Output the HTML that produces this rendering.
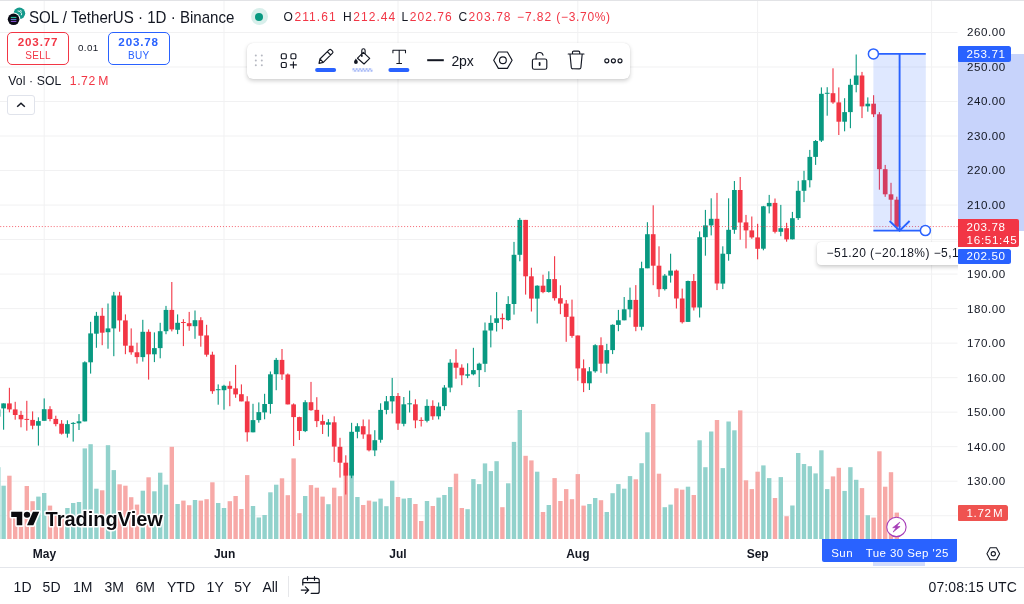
<!DOCTYPE html>
<html><head><meta charset="utf-8"><title>SOLUSDT chart</title>
<style>
html,body{margin:0;padding:0;background:#fff;}
body{width:1024px;height:604px;position:relative;overflow:hidden;will-change:transform;font-family:"Liberation Sans",sans-serif;color:#131722;}
.abs{position:absolute;white-space:nowrap;line-height:1;}
#chart{position:absolute;left:0;top:0;}
.pl{position:absolute;left:966.9px;font-size:11.6px;letter-spacing:0.56px;line-height:1;white-space:nowrap;color:#131722;}
.tl{position:absolute;top:548.2px;font-size:12px;font-weight:bold;line-height:1;white-space:nowrap;transform:translateX(-50%);color:#131722;}
.rg{position:absolute;top:579.6px;font-size:14px;line-height:1;white-space:nowrap;color:#131722;}
.red{color:#F23645;}
.lbl{position:absolute;left:958px;color:#fff;font-size:11.6px;letter-spacing:0.56px;line-height:1;white-space:nowrap;box-sizing:border-box;padding-left:8.6px;}
</style></head><body>
<div class="abs" style="left:0;top:0;width:1024px;height:1px;background:#E2E3E6"></div>
<svg id="chart" width="1024" height="604" viewBox="0 0 1024 604">
<line x1="0" y1="515.73" x2="957.5" y2="515.73" stroke="#F1F1F2" stroke-width="1"/>
<line x1="0" y1="481.21" x2="957.5" y2="481.21" stroke="#F1F1F2" stroke-width="1"/>
<line x1="0" y1="446.69" x2="957.5" y2="446.69" stroke="#F1F1F2" stroke-width="1"/>
<line x1="0" y1="412.17" x2="957.5" y2="412.17" stroke="#F1F1F2" stroke-width="1"/>
<line x1="0" y1="377.65" x2="957.5" y2="377.65" stroke="#F1F1F2" stroke-width="1"/>
<line x1="0" y1="343.13" x2="957.5" y2="343.13" stroke="#F1F1F2" stroke-width="1"/>
<line x1="0" y1="308.61" x2="957.5" y2="308.61" stroke="#F1F1F2" stroke-width="1"/>
<line x1="0" y1="274.09" x2="957.5" y2="274.09" stroke="#F1F1F2" stroke-width="1"/>
<line x1="0" y1="239.57" x2="957.5" y2="239.57" stroke="#F1F1F2" stroke-width="1"/>
<line x1="0" y1="205.05" x2="957.5" y2="205.05" stroke="#F1F1F2" stroke-width="1"/>
<line x1="0" y1="170.53" x2="957.5" y2="170.53" stroke="#F1F1F2" stroke-width="1"/>
<line x1="0" y1="136.01" x2="957.5" y2="136.01" stroke="#F1F1F2" stroke-width="1"/>
<line x1="0" y1="101.49" x2="957.5" y2="101.49" stroke="#F1F1F2" stroke-width="1"/>
<line x1="0" y1="66.97" x2="957.5" y2="66.97" stroke="#F1F1F2" stroke-width="1"/>
<line x1="0" y1="32.45" x2="957.5" y2="32.45" stroke="#F1F1F2" stroke-width="1"/>
<line x1="44.2" y1="1" x2="44.2" y2="539" stroke="#F1F1F2" stroke-width="1"/>
<line x1="224.0" y1="1" x2="224.0" y2="539" stroke="#F1F1F2" stroke-width="1"/>
<line x1="398.0" y1="1" x2="398.0" y2="539" stroke="#F1F1F2" stroke-width="1"/>
<line x1="577.8" y1="1" x2="577.8" y2="539" stroke="#F1F1F2" stroke-width="1"/>
<line x1="757.6" y1="1" x2="757.6" y2="539" stroke="#F1F1F2" stroke-width="1"/>
<line x1="931.6" y1="1" x2="931.6" y2="539" stroke="#F1F1F2" stroke-width="1"/>
<rect x="0" y="467.2" width="0.5" height="71.8" fill="#92D2CC"/>
<g>
<rect x="-4.40" y="467.2" width="4.4" height="71.8" fill="#92D2CC"/>
<rect x="1.40" y="485.7" width="4.4" height="53.3" fill="#92D2CC"/>
<rect x="7.20" y="475.7" width="4.4" height="63.3" fill="#F7A9A7"/>
<rect x="13.00" y="510.0" width="4.4" height="29.0" fill="#F7A9A7"/>
<rect x="18.80" y="512.0" width="4.4" height="27.0" fill="#F7A9A7"/>
<rect x="24.60" y="486.0" width="4.4" height="53.0" fill="#F7A9A7"/>
<rect x="30.40" y="501.2" width="4.4" height="37.8" fill="#F7A9A7"/>
<rect x="36.20" y="496.6" width="4.4" height="42.4" fill="#92D2CC"/>
<rect x="42.00" y="493.0" width="4.4" height="46.0" fill="#92D2CC"/>
<rect x="47.80" y="505.6" width="4.4" height="33.4" fill="#F7A9A7"/>
<rect x="53.60" y="514.0" width="4.4" height="25.0" fill="#F7A9A7"/>
<rect x="59.40" y="515.0" width="4.4" height="24.0" fill="#F7A9A7"/>
<rect x="65.20" y="508.0" width="4.4" height="31.0" fill="#92D2CC"/>
<rect x="71.00" y="503.0" width="4.4" height="36.0" fill="#92D2CC"/>
<rect x="76.80" y="502.0" width="4.4" height="37.0" fill="#92D2CC"/>
<rect x="82.60" y="448.4" width="4.4" height="90.6" fill="#92D2CC"/>
<rect x="88.40" y="444.2" width="4.4" height="94.8" fill="#92D2CC"/>
<rect x="94.20" y="488.7" width="4.4" height="50.3" fill="#92D2CC"/>
<rect x="100.00" y="490.3" width="4.4" height="48.7" fill="#F7A9A7"/>
<rect x="105.80" y="445.2" width="4.4" height="93.8" fill="#92D2CC"/>
<rect x="111.60" y="470.1" width="4.4" height="68.9" fill="#92D2CC"/>
<rect x="117.40" y="484.3" width="4.4" height="54.7" fill="#F7A9A7"/>
<rect x="123.20" y="485.7" width="4.4" height="53.3" fill="#F7A9A7"/>
<rect x="129.00" y="497.2" width="4.4" height="41.8" fill="#F7A9A7"/>
<rect x="134.80" y="504.6" width="4.4" height="34.4" fill="#F7A9A7"/>
<rect x="140.60" y="490.7" width="4.4" height="48.3" fill="#92D2CC"/>
<rect x="146.40" y="477.3" width="4.4" height="61.7" fill="#F7A9A7"/>
<rect x="152.20" y="491.3" width="4.4" height="47.7" fill="#92D2CC"/>
<rect x="158.00" y="472.7" width="4.4" height="66.3" fill="#92D2CC"/>
<rect x="163.80" y="484.7" width="4.4" height="54.3" fill="#92D2CC"/>
<rect x="169.60" y="446.8" width="4.4" height="92.2" fill="#F7A9A7"/>
<rect x="175.40" y="504.0" width="4.4" height="35.0" fill="#92D2CC"/>
<rect x="181.20" y="500.6" width="4.4" height="38.4" fill="#F7A9A7"/>
<rect x="187.00" y="505.2" width="4.4" height="33.8" fill="#F7A9A7"/>
<rect x="192.80" y="500.0" width="4.4" height="39.0" fill="#92D2CC"/>
<rect x="198.60" y="500.6" width="4.4" height="38.4" fill="#F7A9A7"/>
<rect x="204.40" y="499.2" width="4.4" height="39.8" fill="#F7A9A7"/>
<rect x="210.20" y="482.3" width="4.4" height="56.7" fill="#F7A9A7"/>
<rect x="216.00" y="503.0" width="4.4" height="36.0" fill="#92D2CC"/>
<rect x="221.80" y="508.0" width="4.4" height="31.0" fill="#92D2CC"/>
<rect x="227.60" y="501.2" width="4.4" height="37.8" fill="#F7A9A7"/>
<rect x="233.40" y="496.0" width="4.4" height="43.0" fill="#F7A9A7"/>
<rect x="239.20" y="509.0" width="4.4" height="30.0" fill="#F7A9A7"/>
<rect x="245.00" y="475.1" width="4.4" height="63.9" fill="#F7A9A7"/>
<rect x="250.80" y="506.0" width="4.4" height="33.0" fill="#92D2CC"/>
<rect x="256.60" y="517.5" width="4.4" height="21.5" fill="#92D2CC"/>
<rect x="262.40" y="515.0" width="4.4" height="24.0" fill="#92D2CC"/>
<rect x="268.20" y="492.3" width="4.4" height="46.7" fill="#92D2CC"/>
<rect x="274.00" y="484.7" width="4.4" height="54.3" fill="#92D2CC"/>
<rect x="279.80" y="478.3" width="4.4" height="60.7" fill="#F7A9A7"/>
<rect x="285.60" y="495.2" width="4.4" height="43.8" fill="#F7A9A7"/>
<rect x="291.40" y="458.4" width="4.4" height="80.6" fill="#F7A9A7"/>
<rect x="297.20" y="513.2" width="4.4" height="25.8" fill="#F7A9A7"/>
<rect x="303.00" y="496.0" width="4.4" height="43.0" fill="#92D2CC"/>
<rect x="308.80" y="485.1" width="4.4" height="53.9" fill="#F7A9A7"/>
<rect x="314.60" y="487.7" width="4.4" height="51.3" fill="#F7A9A7"/>
<rect x="320.40" y="496.6" width="4.4" height="42.4" fill="#F7A9A7"/>
<rect x="326.20" y="504.2" width="4.4" height="34.8" fill="#92D2CC"/>
<rect x="332.00" y="487.7" width="4.4" height="51.3" fill="#F7A9A7"/>
<rect x="337.80" y="496.2" width="4.4" height="42.8" fill="#F7A9A7"/>
<rect x="343.60" y="470.0" width="4.4" height="69.0" fill="#F7A9A7"/>
<rect x="349.40" y="468.0" width="4.4" height="71.0" fill="#92D2CC"/>
<rect x="355.20" y="497.0" width="4.4" height="42.0" fill="#92D2CC"/>
<rect x="361.00" y="505.0" width="4.4" height="34.0" fill="#F7A9A7"/>
<rect x="366.80" y="500.6" width="4.4" height="38.4" fill="#F7A9A7"/>
<rect x="372.60" y="501.6" width="4.4" height="37.4" fill="#92D2CC"/>
<rect x="378.40" y="498.6" width="4.4" height="40.4" fill="#92D2CC"/>
<rect x="384.20" y="506.2" width="4.4" height="32.8" fill="#92D2CC"/>
<rect x="390.00" y="480.7" width="4.4" height="58.3" fill="#92D2CC"/>
<rect x="395.80" y="497.0" width="4.4" height="42.0" fill="#F7A9A7"/>
<rect x="401.60" y="498.6" width="4.4" height="40.4" fill="#92D2CC"/>
<rect x="407.40" y="498.0" width="4.4" height="41.0" fill="#92D2CC"/>
<rect x="413.20" y="504.0" width="4.4" height="35.0" fill="#F7A9A7"/>
<rect x="419.00" y="521.0" width="4.4" height="18.0" fill="#F7A9A7"/>
<rect x="424.80" y="501.0" width="4.4" height="38.0" fill="#92D2CC"/>
<rect x="430.60" y="506.0" width="4.4" height="33.0" fill="#F7A9A7"/>
<rect x="436.40" y="497.6" width="4.4" height="41.4" fill="#92D2CC"/>
<rect x="442.20" y="495.0" width="4.4" height="44.0" fill="#92D2CC"/>
<rect x="448.00" y="487.0" width="4.4" height="52.0" fill="#92D2CC"/>
<rect x="453.80" y="473.7" width="4.4" height="65.3" fill="#F7A9A7"/>
<rect x="459.60" y="508.0" width="4.4" height="31.0" fill="#F7A9A7"/>
<rect x="465.40" y="509.2" width="4.4" height="29.8" fill="#92D2CC"/>
<rect x="471.20" y="479.1" width="4.4" height="59.9" fill="#92D2CC"/>
<rect x="477.00" y="484.1" width="4.4" height="54.9" fill="#92D2CC"/>
<rect x="482.80" y="463.4" width="4.4" height="75.6" fill="#92D2CC"/>
<rect x="488.60" y="471.1" width="4.4" height="67.9" fill="#92D2CC"/>
<rect x="494.40" y="461.2" width="4.4" height="77.8" fill="#92D2CC"/>
<rect x="500.20" y="507.2" width="4.4" height="31.8" fill="#F7A9A7"/>
<rect x="506.00" y="483.3" width="4.4" height="55.7" fill="#92D2CC"/>
<rect x="511.80" y="441.9" width="4.4" height="97.1" fill="#92D2CC"/>
<rect x="517.60" y="410.0" width="4.4" height="129.0" fill="#92D2CC"/>
<rect x="523.40" y="455.8" width="4.4" height="83.2" fill="#F7A9A7"/>
<rect x="529.20" y="460.4" width="4.4" height="78.6" fill="#F7A9A7"/>
<rect x="535.00" y="471.7" width="4.4" height="67.3" fill="#92D2CC"/>
<rect x="540.80" y="512.0" width="4.4" height="27.0" fill="#F7A9A7"/>
<rect x="546.60" y="505.0" width="4.4" height="34.0" fill="#92D2CC"/>
<rect x="552.40" y="478.1" width="4.4" height="60.9" fill="#F7A9A7"/>
<rect x="558.20" y="501.0" width="4.4" height="38.0" fill="#F7A9A7"/>
<rect x="564.00" y="489.1" width="4.4" height="49.9" fill="#F7A9A7"/>
<rect x="569.80" y="499.2" width="4.4" height="39.8" fill="#F7A9A7"/>
<rect x="575.60" y="474.1" width="4.4" height="64.9" fill="#F7A9A7"/>
<rect x="581.40" y="505.6" width="4.4" height="33.4" fill="#F7A9A7"/>
<rect x="587.20" y="504.0" width="4.4" height="35.0" fill="#92D2CC"/>
<rect x="593.00" y="498.0" width="4.4" height="41.0" fill="#92D2CC"/>
<rect x="598.80" y="500.2" width="4.4" height="38.8" fill="#F7A9A7"/>
<rect x="604.60" y="512.0" width="4.4" height="27.0" fill="#92D2CC"/>
<rect x="610.40" y="493.2" width="4.4" height="45.8" fill="#92D2CC"/>
<rect x="616.20" y="484.1" width="4.4" height="54.9" fill="#92D2CC"/>
<rect x="622.00" y="488.7" width="4.4" height="50.3" fill="#92D2CC"/>
<rect x="627.80" y="476.1" width="4.4" height="62.9" fill="#92D2CC"/>
<rect x="633.60" y="479.3" width="4.4" height="59.7" fill="#F7A9A7"/>
<rect x="639.40" y="463.2" width="4.4" height="75.8" fill="#92D2CC"/>
<rect x="645.20" y="432.3" width="4.4" height="106.7" fill="#92D2CC"/>
<rect x="651.00" y="404.0" width="4.4" height="135.0" fill="#F7A9A7"/>
<rect x="656.80" y="473.7" width="4.4" height="65.3" fill="#F7A9A7"/>
<rect x="662.60" y="507.2" width="4.4" height="31.8" fill="#92D2CC"/>
<rect x="668.40" y="504.6" width="4.4" height="34.4" fill="#92D2CC"/>
<rect x="674.20" y="488.3" width="4.4" height="50.7" fill="#F7A9A7"/>
<rect x="680.00" y="489.7" width="4.4" height="49.3" fill="#F7A9A7"/>
<rect x="685.80" y="486.7" width="4.4" height="52.3" fill="#92D2CC"/>
<rect x="691.60" y="495.0" width="4.4" height="44.0" fill="#F7A9A7"/>
<rect x="697.40" y="440.3" width="4.4" height="98.7" fill="#92D2CC"/>
<rect x="703.20" y="467.2" width="4.4" height="71.8" fill="#92D2CC"/>
<rect x="709.00" y="431.5" width="4.4" height="107.5" fill="#92D2CC"/>
<rect x="714.80" y="420.0" width="4.4" height="119.0" fill="#F7A9A7"/>
<rect x="720.60" y="468.1" width="4.4" height="70.9" fill="#92D2CC"/>
<rect x="726.40" y="421.5" width="4.4" height="117.5" fill="#92D2CC"/>
<rect x="732.20" y="430.3" width="4.4" height="108.7" fill="#92D2CC"/>
<rect x="738.00" y="410.4" width="4.4" height="128.6" fill="#F7A9A7"/>
<rect x="743.80" y="480.3" width="4.4" height="58.7" fill="#F7A9A7"/>
<rect x="749.60" y="489.1" width="4.4" height="49.9" fill="#F7A9A7"/>
<rect x="755.40" y="471.7" width="4.4" height="67.3" fill="#F7A9A7"/>
<rect x="761.20" y="465.4" width="4.4" height="73.6" fill="#92D2CC"/>
<rect x="767.00" y="478.1" width="4.4" height="60.9" fill="#92D2CC"/>
<rect x="772.80" y="498.0" width="4.4" height="41.0" fill="#F7A9A7"/>
<rect x="778.60" y="477.1" width="4.4" height="61.9" fill="#92D2CC"/>
<rect x="784.40" y="516.2" width="4.4" height="22.8" fill="#F7A9A7"/>
<rect x="790.20" y="505.5" width="4.4" height="33.5" fill="#92D2CC"/>
<rect x="796.00" y="453.0" width="4.4" height="86.0" fill="#92D2CC"/>
<rect x="801.80" y="464.0" width="4.4" height="75.0" fill="#92D2CC"/>
<rect x="807.60" y="466.2" width="4.4" height="72.8" fill="#92D2CC"/>
<rect x="813.40" y="473.4" width="4.4" height="65.6" fill="#92D2CC"/>
<rect x="819.20" y="450.3" width="4.4" height="88.7" fill="#92D2CC"/>
<rect x="825.00" y="489.1" width="4.4" height="49.9" fill="#92D2CC"/>
<rect x="830.80" y="476.4" width="4.4" height="62.6" fill="#F7A9A7"/>
<rect x="836.60" y="467.8" width="4.4" height="71.2" fill="#F7A9A7"/>
<rect x="842.40" y="490.9" width="4.4" height="48.1" fill="#92D2CC"/>
<rect x="848.20" y="467.2" width="4.4" height="71.8" fill="#92D2CC"/>
<rect x="854.00" y="479.8" width="4.4" height="59.2" fill="#92D2CC"/>
<rect x="859.80" y="488.1" width="4.4" height="50.9" fill="#F7A9A7"/>
<rect x="865.60" y="515.2" width="4.4" height="23.8" fill="#92D2CC"/>
<rect x="871.40" y="517.6" width="4.4" height="21.4" fill="#F7A9A7"/>
<rect x="877.20" y="451.3" width="4.4" height="87.7" fill="#F7A9A7"/>
<rect x="883.00" y="486.7" width="4.4" height="52.3" fill="#F7A9A7"/>
<rect x="888.80" y="472.2" width="4.4" height="66.8" fill="#F7A9A7"/>
<rect x="894.60" y="512.6" width="4.4" height="26.4" fill="#F7A9A7"/>
</g>
<g>
<rect x="3.05" y="403.4" width="1.1" height="26.3" fill="#089981"/>
<rect x="1.25" y="403.4" width="4.7" height="5.0" fill="#089981"/>
<rect x="8.85" y="387.8" width="1.1" height="24.5" fill="#F23645"/>
<rect x="7.05" y="403.4" width="4.7" height="6.0" fill="#F23645"/>
<rect x="14.65" y="401.8" width="1.1" height="17.9" fill="#F23645"/>
<rect x="12.85" y="409.4" width="4.7" height="5.6" fill="#F23645"/>
<rect x="20.45" y="410.8" width="1.1" height="16.5" fill="#F23645"/>
<rect x="18.65" y="414.9" width="4.7" height="4.4" fill="#F23645"/>
<rect x="26.25" y="400.8" width="1.1" height="29.9" fill="#F23645"/>
<rect x="24.45" y="418.9" width="4.7" height="1.0" fill="#F23645"/>
<rect x="32.05" y="411.4" width="1.1" height="17.9" fill="#F23645"/>
<rect x="30.25" y="419.9" width="4.7" height="5.8" fill="#F23645"/>
<rect x="37.85" y="417.3" width="1.1" height="28.3" fill="#089981"/>
<rect x="36.05" y="421.1" width="4.7" height="4.6" fill="#089981"/>
<rect x="43.65" y="398.4" width="1.1" height="22.3" fill="#089981"/>
<rect x="41.85" y="409.2" width="4.7" height="11.6" fill="#089981"/>
<rect x="49.45" y="406.2" width="1.1" height="15.1" fill="#F23645"/>
<rect x="47.65" y="409.2" width="4.7" height="9.8" fill="#F23645"/>
<rect x="55.25" y="415.7" width="1.1" height="10.6" fill="#F23645"/>
<rect x="53.45" y="418.9" width="4.7" height="5.2" fill="#F23645"/>
<rect x="61.05" y="420.1" width="1.1" height="14.5" fill="#F23645"/>
<rect x="59.25" y="423.7" width="4.7" height="10.0" fill="#F23645"/>
<rect x="66.85" y="420.3" width="1.1" height="17.3" fill="#089981"/>
<rect x="65.05" y="424.1" width="4.7" height="9.6" fill="#089981"/>
<rect x="72.65" y="422.1" width="1.1" height="19.5" fill="#089981"/>
<rect x="70.85" y="422.9" width="4.7" height="1.0" fill="#089981"/>
<rect x="78.45" y="414.1" width="1.1" height="15.9" fill="#089981"/>
<rect x="76.65" y="421.3" width="4.7" height="2.0" fill="#089981"/>
<rect x="84.25" y="361.3" width="1.1" height="60.1" fill="#089981"/>
<rect x="82.45" y="362.3" width="4.7" height="59.1" fill="#089981"/>
<rect x="90.05" y="321.8" width="1.1" height="51.8" fill="#089981"/>
<rect x="88.25" y="333.4" width="4.7" height="28.9" fill="#089981"/>
<rect x="95.85" y="311.9" width="1.1" height="35.9" fill="#089981"/>
<rect x="94.05" y="315.8" width="4.7" height="17.9" fill="#089981"/>
<rect x="101.65" y="307.9" width="1.1" height="37.3" fill="#F23645"/>
<rect x="99.85" y="315.8" width="4.7" height="16.9" fill="#F23645"/>
<rect x="107.45" y="303.5" width="1.1" height="45.2" fill="#089981"/>
<rect x="105.65" y="328.4" width="4.7" height="3.8" fill="#089981"/>
<rect x="113.25" y="291.9" width="1.1" height="64.3" fill="#089981"/>
<rect x="111.45" y="295.5" width="4.7" height="32.9" fill="#089981"/>
<rect x="119.05" y="291.9" width="1.1" height="39.8" fill="#F23645"/>
<rect x="117.25" y="295.5" width="4.7" height="24.9" fill="#F23645"/>
<rect x="124.85" y="314.4" width="1.1" height="39.8" fill="#F23645"/>
<rect x="123.05" y="320.4" width="4.7" height="25.3" fill="#F23645"/>
<rect x="130.65" y="328.4" width="1.1" height="26.3" fill="#F23645"/>
<rect x="128.85" y="345.7" width="4.7" height="6.6" fill="#F23645"/>
<rect x="136.45" y="342.7" width="1.1" height="20.9" fill="#F23645"/>
<rect x="134.65" y="352.3" width="4.7" height="4.8" fill="#F23645"/>
<rect x="142.25" y="319.8" width="1.1" height="41.8" fill="#089981"/>
<rect x="140.45" y="331.8" width="4.7" height="25.3" fill="#089981"/>
<rect x="148.05" y="329.4" width="1.1" height="50.2" fill="#F23645"/>
<rect x="146.25" y="331.8" width="4.7" height="22.5" fill="#F23645"/>
<rect x="153.85" y="332.4" width="1.1" height="29.7" fill="#089981"/>
<rect x="152.05" y="348.1" width="4.7" height="6.2" fill="#089981"/>
<rect x="159.65" y="322.8" width="1.1" height="35.5" fill="#089981"/>
<rect x="157.85" y="331.2" width="4.7" height="16.9" fill="#089981"/>
<rect x="165.45" y="305.9" width="1.1" height="28.3" fill="#089981"/>
<rect x="163.65" y="309.9" width="4.7" height="21.3" fill="#089981"/>
<rect x="171.25" y="282.0" width="1.1" height="49.4" fill="#F23645"/>
<rect x="169.45" y="309.9" width="4.7" height="19.5" fill="#F23645"/>
<rect x="177.05" y="314.4" width="1.1" height="19.7" fill="#089981"/>
<rect x="175.25" y="322.8" width="4.7" height="7.0" fill="#089981"/>
<rect x="182.85" y="319.2" width="1.1" height="26.9" fill="#F23645"/>
<rect x="181.05" y="322.0" width="4.7" height="1.0" fill="#F23645"/>
<rect x="188.65" y="311.9" width="1.1" height="18.9" fill="#F23645"/>
<rect x="186.85" y="323.2" width="4.7" height="3.0" fill="#F23645"/>
<rect x="194.45" y="310.5" width="1.1" height="28.3" fill="#089981"/>
<rect x="192.65" y="320.2" width="4.7" height="6.0" fill="#089981"/>
<rect x="200.25" y="317.2" width="1.1" height="29.5" fill="#F23645"/>
<rect x="198.45" y="320.2" width="4.7" height="15.5" fill="#F23645"/>
<rect x="206.05" y="324.8" width="1.1" height="31.9" fill="#F23645"/>
<rect x="204.25" y="335.4" width="4.7" height="19.3" fill="#F23645"/>
<rect x="211.85" y="351.7" width="1.1" height="42.1" fill="#F23645"/>
<rect x="210.05" y="354.7" width="4.7" height="36.5" fill="#F23645"/>
<rect x="217.65" y="384.4" width="1.1" height="20.3" fill="#089981"/>
<rect x="215.85" y="389.2" width="4.7" height="1.0" fill="#089981"/>
<rect x="223.45" y="384.8" width="1.1" height="24.9" fill="#089981"/>
<rect x="221.65" y="385.8" width="4.7" height="4.4" fill="#089981"/>
<rect x="229.25" y="381.3" width="1.1" height="24.9" fill="#F23645"/>
<rect x="227.45" y="385.8" width="4.7" height="3.0" fill="#F23645"/>
<rect x="235.05" y="364.9" width="1.1" height="32.9" fill="#F23645"/>
<rect x="233.25" y="388.4" width="4.7" height="6.0" fill="#F23645"/>
<rect x="240.85" y="384.4" width="1.1" height="16.9" fill="#F23645"/>
<rect x="239.05" y="394.2" width="4.7" height="7.2" fill="#F23645"/>
<rect x="246.65" y="396.2" width="1.1" height="45.4" fill="#F23645"/>
<rect x="244.85" y="401.4" width="4.7" height="30.9" fill="#F23645"/>
<rect x="252.45" y="403.8" width="1.1" height="28.5" fill="#089981"/>
<rect x="250.65" y="420.1" width="4.7" height="12.2" fill="#089981"/>
<rect x="258.25" y="402.4" width="1.1" height="20.3" fill="#089981"/>
<rect x="256.45" y="412.1" width="4.7" height="8.0" fill="#089981"/>
<rect x="264.05" y="393.8" width="1.1" height="25.5" fill="#089981"/>
<rect x="262.25" y="404.0" width="4.7" height="8.4" fill="#089981"/>
<rect x="269.85" y="371.5" width="1.1" height="42.2" fill="#089981"/>
<rect x="268.05" y="374.3" width="4.7" height="29.7" fill="#089981"/>
<rect x="275.65" y="357.9" width="1.1" height="32.3" fill="#089981"/>
<rect x="273.85" y="359.9" width="4.7" height="14.3" fill="#089981"/>
<rect x="281.45" y="349.0" width="1.1" height="30.9" fill="#F23645"/>
<rect x="279.65" y="359.9" width="4.7" height="14.5" fill="#F23645"/>
<rect x="287.25" y="373.5" width="1.1" height="30.9" fill="#F23645"/>
<rect x="285.45" y="374.5" width="4.7" height="29.9" fill="#F23645"/>
<rect x="293.05" y="403.4" width="1.1" height="42.6" fill="#F23645"/>
<rect x="291.25" y="404.4" width="4.7" height="12.7" fill="#F23645"/>
<rect x="298.85" y="416.7" width="1.1" height="23.3" fill="#F23645"/>
<rect x="297.05" y="417.1" width="4.7" height="13.9" fill="#F23645"/>
<rect x="304.65" y="400.2" width="1.1" height="31.9" fill="#089981"/>
<rect x="302.85" y="402.2" width="4.7" height="28.9" fill="#089981"/>
<rect x="310.45" y="381.9" width="1.1" height="28.9" fill="#F23645"/>
<rect x="308.65" y="402.2" width="4.7" height="8.0" fill="#F23645"/>
<rect x="316.25" y="397.2" width="1.1" height="29.9" fill="#F23645"/>
<rect x="314.45" y="409.9" width="4.7" height="11.2" fill="#F23645"/>
<rect x="322.05" y="414.7" width="1.1" height="19.3" fill="#F23645"/>
<rect x="320.25" y="421.1" width="4.7" height="3.6" fill="#F23645"/>
<rect x="327.85" y="419.1" width="1.1" height="17.5" fill="#089981"/>
<rect x="326.05" y="422.3" width="4.7" height="2.4" fill="#089981"/>
<rect x="333.65" y="416.3" width="1.1" height="45.6" fill="#F23645"/>
<rect x="331.85" y="422.3" width="4.7" height="24.3" fill="#F23645"/>
<rect x="339.45" y="437.8" width="1.1" height="39.8" fill="#F23645"/>
<rect x="337.65" y="446.8" width="4.7" height="15.9" fill="#F23645"/>
<rect x="345.25" y="455.3" width="1.1" height="39.2" fill="#F23645"/>
<rect x="343.45" y="462.7" width="4.7" height="12.9" fill="#F23645"/>
<rect x="351.05" y="422.8" width="1.1" height="55.4" fill="#089981"/>
<rect x="349.25" y="431.8" width="4.7" height="43.8" fill="#089981"/>
<rect x="356.85" y="423.2" width="1.1" height="15.1" fill="#089981"/>
<rect x="355.05" y="426.2" width="4.7" height="5.6" fill="#089981"/>
<rect x="362.65" y="419.5" width="1.1" height="19.3" fill="#F23645"/>
<rect x="360.85" y="426.2" width="4.7" height="8.2" fill="#F23645"/>
<rect x="368.45" y="419.5" width="1.1" height="31.9" fill="#F23645"/>
<rect x="366.65" y="434.4" width="4.7" height="15.9" fill="#F23645"/>
<rect x="374.25" y="430.2" width="1.1" height="25.9" fill="#089981"/>
<rect x="372.45" y="440.2" width="4.7" height="10.2" fill="#089981"/>
<rect x="380.05" y="403.3" width="1.1" height="39.4" fill="#089981"/>
<rect x="378.25" y="409.9" width="4.7" height="29.9" fill="#089981"/>
<rect x="385.85" y="396.0" width="1.1" height="18.3" fill="#089981"/>
<rect x="384.05" y="401.3" width="4.7" height="8.6" fill="#089981"/>
<rect x="391.65" y="377.9" width="1.1" height="35.6" fill="#089981"/>
<rect x="389.85" y="396.0" width="4.7" height="5.4" fill="#089981"/>
<rect x="397.45" y="393.0" width="1.1" height="36.9" fill="#F23645"/>
<rect x="395.65" y="396.0" width="4.7" height="27.5" fill="#F23645"/>
<rect x="403.25" y="397.0" width="1.1" height="29.3" fill="#089981"/>
<rect x="401.45" y="404.3" width="4.7" height="19.5" fill="#089981"/>
<rect x="409.05" y="390.6" width="1.1" height="21.9" fill="#089981"/>
<rect x="407.25" y="403.3" width="4.7" height="1.0" fill="#089981"/>
<rect x="414.85" y="399.3" width="1.1" height="28.9" fill="#F23645"/>
<rect x="413.05" y="404.3" width="4.7" height="16.1" fill="#F23645"/>
<rect x="420.65" y="417.3" width="1.1" height="9.2" fill="#F23645"/>
<rect x="418.85" y="419.9" width="4.7" height="1.0" fill="#F23645"/>
<rect x="426.45" y="399.3" width="1.1" height="23.1" fill="#089981"/>
<rect x="424.65" y="405.9" width="4.7" height="14.9" fill="#089981"/>
<rect x="432.25" y="400.3" width="1.1" height="19.5" fill="#F23645"/>
<rect x="430.45" y="405.9" width="4.7" height="10.4" fill="#F23645"/>
<rect x="438.05" y="402.5" width="1.1" height="16.9" fill="#089981"/>
<rect x="436.25" y="406.5" width="4.7" height="9.8" fill="#089981"/>
<rect x="443.85" y="385.1" width="1.1" height="25.1" fill="#089981"/>
<rect x="442.05" y="387.6" width="4.7" height="18.5" fill="#089981"/>
<rect x="449.65" y="359.2" width="1.1" height="33.1" fill="#089981"/>
<rect x="447.85" y="362.7" width="4.7" height="24.9" fill="#089981"/>
<rect x="455.45" y="349.2" width="1.1" height="29.5" fill="#F23645"/>
<rect x="453.65" y="362.7" width="4.7" height="5.0" fill="#F23645"/>
<rect x="461.25" y="364.3" width="1.1" height="20.9" fill="#F23645"/>
<rect x="459.45" y="367.7" width="4.7" height="7.6" fill="#F23645"/>
<rect x="467.05" y="363.3" width="1.1" height="14.9" fill="#089981"/>
<rect x="465.25" y="374.3" width="4.7" height="1.4" fill="#089981"/>
<rect x="472.85" y="347.8" width="1.1" height="27.5" fill="#089981"/>
<rect x="471.05" y="370.1" width="4.7" height="4.2" fill="#089981"/>
<rect x="478.65" y="362.7" width="1.1" height="24.3" fill="#089981"/>
<rect x="476.85" y="363.7" width="4.7" height="6.4" fill="#089981"/>
<rect x="484.45" y="322.5" width="1.1" height="49.6" fill="#089981"/>
<rect x="482.65" y="330.5" width="4.7" height="33.3" fill="#089981"/>
<rect x="490.25" y="315.3" width="1.1" height="32.1" fill="#089981"/>
<rect x="488.45" y="322.9" width="4.7" height="7.6" fill="#089981"/>
<rect x="496.05" y="292.1" width="1.1" height="39.4" fill="#089981"/>
<rect x="494.25" y="318.3" width="4.7" height="4.6" fill="#089981"/>
<rect x="501.85" y="313.5" width="1.1" height="15.7" fill="#F23645"/>
<rect x="500.05" y="317.9" width="4.7" height="1.4" fill="#F23645"/>
<rect x="507.65" y="296.2" width="1.1" height="24.7" fill="#089981"/>
<rect x="505.85" y="304.0" width="4.7" height="16.1" fill="#089981"/>
<rect x="513.45" y="241.9" width="1.1" height="72.7" fill="#089981"/>
<rect x="511.65" y="254.8" width="4.7" height="49.2" fill="#089981"/>
<rect x="519.25" y="217.9" width="1.1" height="43.4" fill="#089981"/>
<rect x="517.45" y="219.9" width="4.7" height="34.9" fill="#089981"/>
<rect x="525.05" y="219.9" width="1.1" height="74.7" fill="#F23645"/>
<rect x="523.25" y="219.9" width="4.7" height="56.4" fill="#F23645"/>
<rect x="530.85" y="267.7" width="1.1" height="43.8" fill="#F23645"/>
<rect x="529.05" y="276.3" width="4.7" height="22.3" fill="#F23645"/>
<rect x="536.65" y="285.3" width="1.1" height="38.2" fill="#089981"/>
<rect x="534.85" y="285.7" width="4.7" height="12.9" fill="#089981"/>
<rect x="542.45" y="274.7" width="1.1" height="18.5" fill="#F23645"/>
<rect x="540.65" y="285.7" width="4.7" height="6.4" fill="#F23645"/>
<rect x="548.25" y="271.3" width="1.1" height="21.3" fill="#089981"/>
<rect x="546.45" y="279.1" width="4.7" height="12.9" fill="#089981"/>
<rect x="554.05" y="256.2" width="1.1" height="44.4" fill="#F23645"/>
<rect x="552.25" y="279.1" width="4.7" height="19.1" fill="#F23645"/>
<rect x="559.85" y="285.3" width="1.1" height="28.9" fill="#F23645"/>
<rect x="558.05" y="298.2" width="4.7" height="5.4" fill="#F23645"/>
<rect x="565.65" y="300.0" width="1.1" height="41.8" fill="#F23645"/>
<rect x="563.85" y="303.6" width="4.7" height="13.3" fill="#F23645"/>
<rect x="571.45" y="299.6" width="1.1" height="38.2" fill="#F23645"/>
<rect x="569.65" y="316.6" width="4.7" height="19.3" fill="#F23645"/>
<rect x="577.25" y="335.5" width="1.1" height="45.2" fill="#F23645"/>
<rect x="575.45" y="335.5" width="4.7" height="32.9" fill="#F23645"/>
<rect x="583.05" y="359.4" width="1.1" height="32.7" fill="#F23645"/>
<rect x="581.25" y="368.3" width="4.7" height="14.9" fill="#F23645"/>
<rect x="588.85" y="367.1" width="1.1" height="22.9" fill="#089981"/>
<rect x="587.05" y="371.3" width="4.7" height="12.0" fill="#089981"/>
<rect x="594.65" y="344.2" width="1.1" height="28.5" fill="#089981"/>
<rect x="592.85" y="345.2" width="4.7" height="26.1" fill="#089981"/>
<rect x="600.45" y="337.3" width="1.1" height="35.5" fill="#F23645"/>
<rect x="598.65" y="345.2" width="4.7" height="18.5" fill="#F23645"/>
<rect x="606.25" y="343.8" width="1.1" height="29.9" fill="#089981"/>
<rect x="604.45" y="350.1" width="4.7" height="13.5" fill="#089981"/>
<rect x="612.05" y="324.4" width="1.1" height="29.7" fill="#089981"/>
<rect x="610.25" y="324.8" width="4.7" height="25.3" fill="#089981"/>
<rect x="617.85" y="309.9" width="1.1" height="21.3" fill="#089981"/>
<rect x="616.05" y="320.3" width="4.7" height="4.6" fill="#089981"/>
<rect x="623.65" y="297.0" width="1.1" height="23.3" fill="#089981"/>
<rect x="621.85" y="309.3" width="4.7" height="11.0" fill="#089981"/>
<rect x="629.45" y="287.6" width="1.1" height="29.7" fill="#089981"/>
<rect x="627.65" y="299.9" width="4.7" height="9.4" fill="#089981"/>
<rect x="635.25" y="285.1" width="1.1" height="46.1" fill="#F23645"/>
<rect x="633.45" y="299.9" width="4.7" height="26.9" fill="#F23645"/>
<rect x="641.05" y="261.7" width="1.1" height="68.7" fill="#089981"/>
<rect x="639.25" y="268.2" width="4.7" height="58.6" fill="#089981"/>
<rect x="646.85" y="222.2" width="1.1" height="46.0" fill="#089981"/>
<rect x="645.05" y="234.2" width="4.7" height="34.1" fill="#089981"/>
<rect x="652.65" y="205.3" width="1.1" height="79.9" fill="#F23645"/>
<rect x="650.85" y="234.2" width="4.7" height="31.5" fill="#F23645"/>
<rect x="658.45" y="246.3" width="1.1" height="50.6" fill="#F23645"/>
<rect x="656.65" y="265.7" width="4.7" height="23.5" fill="#F23645"/>
<rect x="664.25" y="274.0" width="1.1" height="16.5" fill="#089981"/>
<rect x="662.45" y="275.6" width="4.7" height="13.5" fill="#089981"/>
<rect x="670.05" y="253.7" width="1.1" height="28.9" fill="#089981"/>
<rect x="668.25" y="270.6" width="4.7" height="5.0" fill="#089981"/>
<rect x="675.85" y="269.6" width="1.1" height="38.9" fill="#F23645"/>
<rect x="674.05" y="270.6" width="4.7" height="27.9" fill="#F23645"/>
<rect x="681.65" y="288.6" width="1.1" height="34.9" fill="#F23645"/>
<rect x="679.85" y="298.5" width="4.7" height="23.7" fill="#F23645"/>
<rect x="687.45" y="280.6" width="1.1" height="41.3" fill="#089981"/>
<rect x="685.65" y="281.0" width="4.7" height="40.9" fill="#089981"/>
<rect x="693.25" y="274.0" width="1.1" height="36.5" fill="#F23645"/>
<rect x="691.45" y="281.0" width="4.7" height="26.5" fill="#F23645"/>
<rect x="699.05" y="231.4" width="1.1" height="86.1" fill="#089981"/>
<rect x="697.25" y="237.2" width="4.7" height="70.3" fill="#089981"/>
<rect x="704.85" y="209.9" width="1.1" height="45.8" fill="#089981"/>
<rect x="703.05" y="225.4" width="4.7" height="11.8" fill="#089981"/>
<rect x="710.65" y="198.3" width="1.1" height="37.1" fill="#089981"/>
<rect x="708.85" y="218.8" width="4.7" height="6.6" fill="#089981"/>
<rect x="716.45" y="192.9" width="1.1" height="97.2" fill="#F23645"/>
<rect x="714.65" y="218.8" width="4.7" height="64.7" fill="#F23645"/>
<rect x="722.25" y="246.3" width="1.1" height="42.8" fill="#089981"/>
<rect x="720.45" y="253.7" width="4.7" height="29.9" fill="#089981"/>
<rect x="728.05" y="198.3" width="1.1" height="62.4" fill="#089981"/>
<rect x="726.25" y="229.8" width="4.7" height="24.3" fill="#089981"/>
<rect x="733.85" y="181.0" width="1.1" height="52.8" fill="#089981"/>
<rect x="732.05" y="190.0" width="4.7" height="39.8" fill="#089981"/>
<rect x="739.65" y="177.0" width="1.1" height="62.7" fill="#F23645"/>
<rect x="737.85" y="190.0" width="4.7" height="32.5" fill="#F23645"/>
<rect x="745.45" y="214.9" width="1.1" height="33.5" fill="#F23645"/>
<rect x="743.65" y="222.4" width="4.7" height="8.0" fill="#F23645"/>
<rect x="751.25" y="216.5" width="1.1" height="22.3" fill="#F23645"/>
<rect x="749.45" y="230.4" width="4.7" height="7.0" fill="#F23645"/>
<rect x="757.05" y="223.8" width="1.1" height="35.5" fill="#F23645"/>
<rect x="755.25" y="237.4" width="4.7" height="11.4" fill="#F23645"/>
<rect x="762.85" y="205.9" width="1.1" height="44.4" fill="#089981"/>
<rect x="761.05" y="206.3" width="4.7" height="42.4" fill="#089981"/>
<rect x="768.65" y="194.9" width="1.1" height="18.5" fill="#089981"/>
<rect x="766.85" y="202.9" width="4.7" height="3.4" fill="#089981"/>
<rect x="774.45" y="198.5" width="1.1" height="34.9" fill="#F23645"/>
<rect x="772.65" y="202.9" width="4.7" height="28.9" fill="#F23645"/>
<rect x="780.25" y="204.9" width="1.1" height="31.3" fill="#089981"/>
<rect x="778.45" y="228.2" width="4.7" height="3.6" fill="#089981"/>
<rect x="786.05" y="222.8" width="1.1" height="18.9" fill="#F23645"/>
<rect x="784.25" y="228.2" width="4.7" height="11.2" fill="#F23645"/>
<rect x="791.85" y="211.9" width="1.1" height="27.5" fill="#089981"/>
<rect x="790.05" y="218.2" width="4.7" height="21.1" fill="#089981"/>
<rect x="797.65" y="180.8" width="1.1" height="39.2" fill="#089981"/>
<rect x="795.85" y="190.8" width="4.7" height="27.3" fill="#089981"/>
<rect x="803.45" y="170.8" width="1.1" height="31.3" fill="#089981"/>
<rect x="801.65" y="180.2" width="4.7" height="10.6" fill="#089981"/>
<rect x="809.25" y="149.9" width="1.1" height="37.5" fill="#089981"/>
<rect x="807.45" y="156.9" width="4.7" height="23.3" fill="#089981"/>
<rect x="815.05" y="140.0" width="1.1" height="24.9" fill="#089981"/>
<rect x="813.25" y="141.0" width="4.7" height="15.9" fill="#089981"/>
<rect x="820.85" y="87.4" width="1.1" height="54.6" fill="#089981"/>
<rect x="819.05" y="93.8" width="4.7" height="46.8" fill="#089981"/>
<rect x="826.65" y="87.2" width="1.1" height="28.5" fill="#089981"/>
<rect x="824.85" y="92.8" width="4.7" height="1.0" fill="#089981"/>
<rect x="832.45" y="68.3" width="1.1" height="35.5" fill="#F23645"/>
<rect x="830.65" y="93.2" width="4.7" height="9.2" fill="#F23645"/>
<rect x="838.25" y="87.4" width="1.1" height="47.6" fill="#F23645"/>
<rect x="836.45" y="102.4" width="4.7" height="19.3" fill="#F23645"/>
<rect x="844.05" y="98.2" width="1.1" height="33.1" fill="#089981"/>
<rect x="842.25" y="112.1" width="4.7" height="9.6" fill="#089981"/>
<rect x="849.85" y="78.8" width="1.1" height="49.4" fill="#089981"/>
<rect x="848.05" y="84.8" width="4.7" height="27.3" fill="#089981"/>
<rect x="855.65" y="54.5" width="1.1" height="37.8" fill="#089981"/>
<rect x="853.85" y="75.5" width="4.7" height="9.4" fill="#089981"/>
<rect x="861.45" y="71.9" width="1.1" height="46.2" fill="#F23645"/>
<rect x="859.65" y="75.5" width="4.7" height="30.9" fill="#F23645"/>
<rect x="867.25" y="97.4" width="1.1" height="14.3" fill="#089981"/>
<rect x="865.45" y="103.7" width="4.7" height="2.6" fill="#089981"/>
<rect x="873.05" y="95.2" width="1.1" height="21.9" fill="#F23645"/>
<rect x="871.25" y="103.7" width="4.7" height="10.6" fill="#F23645"/>
<rect x="878.85" y="112.1" width="1.1" height="77.6" fill="#F23645"/>
<rect x="877.05" y="114.3" width="4.7" height="54.9" fill="#F23645"/>
<rect x="884.65" y="164.9" width="1.1" height="31.9" fill="#F23645"/>
<rect x="882.85" y="169.2" width="4.7" height="25.1" fill="#F23645"/>
<rect x="890.45" y="182.8" width="1.1" height="37.8" fill="#F23645"/>
<rect x="888.65" y="194.3" width="4.7" height="5.4" fill="#F23645"/>
<rect x="896.25" y="196.7" width="1.1" height="32.9" fill="#F23645"/>
<rect x="894.45" y="199.7" width="4.7" height="26.9" fill="#F23645"/>
</g>
<rect x="0" y="409.4" width="0.4" height="7.3" fill="#089981"/>
<line x1="0.2" y1="226.55" x2="957.5" y2="226.55" stroke="#F23645" stroke-width="1" stroke-opacity="0.72" stroke-dasharray="1.05 1.92"/>
<rect x="873.4" y="53.9" width="52.4" height="176.7" fill="#2962FF" fill-opacity="0.15"/>
<g stroke="#2962FF" stroke-width="1.9" fill="none">
<line x1="873.4" y1="53.9" x2="925.8" y2="53.9"/>
<line x1="873.4" y1="230.6" x2="925.8" y2="230.6"/>
<line x1="899.5999999999999" y1="53.9" x2="899.5999999999999" y2="230.6"/>
<polyline points="889.5999999999999,221.0 899.5999999999999,230.6 909.5999999999999,221.0"/>
</g>
<circle cx="873.4" cy="53.9" r="5" fill="#fff" stroke="#2962FF" stroke-width="1.5"/>
<circle cx="925.4" cy="230.6" r="5" fill="#fff" stroke="#2962FF" stroke-width="1.5"/>
<circle cx="896.4" cy="526.9" r="9.7" fill="#fff" stroke="#A63DB8" stroke-width="1.1"/>
<path d="M899.9 522.1 L892.7 527.7 L896.1 527.7 L893.1 532.1 L900.1 526.5 L896.7 526.5 Z" fill="#A63DB8" stroke="#A63DB8" stroke-width="0.7" stroke-linejoin="round"/>
</svg>
<div class="abs" style="left:958px;top:54px;width:66px;height:176.6px;background:#C7D3FB"></div>
<div class="pl" style="top:475.1px">130.00</div>
<div class="pl" style="top:440.6px">140.00</div>
<div class="pl" style="top:406.1px">150.00</div>
<div class="pl" style="top:371.5px">160.00</div>
<div class="pl" style="top:337.0px">170.00</div>
<div class="pl" style="top:302.5px">180.00</div>
<div class="pl" style="top:268.0px">190.00</div>
<div class="pl" style="top:233.5px">200.00</div>
<div class="pl" style="top:199.0px">210.00</div>
<div class="pl" style="top:164.4px">220.00</div>
<div class="pl" style="top:129.9px">230.00</div>
<div class="pl" style="top:95.4px">240.00</div>
<div class="pl" style="top:60.9px">250.00</div>
<div class="pl" style="top:26.4px">260.00</div>
<div class="lbl" style="top:45.9px;width:53.3px;height:16.2px;background:#2962FF;border-radius:1px 2.5px 2.5px 1px;padding-top:2.6px">253.71</div>
<div class="lbl" style="top:218.8px;width:61px;height:28.6px;background:#F23645;border-radius:0 2px 2px 0;padding-top:1px;line-height:12.6px"><div style="height:13.3px;line-height:13.3px">203.78</div><div style="height:13.3px;line-height:13.3px;letter-spacing:0.7px">16:51:45</div></div>
<div class="lbl" style="top:248.5px;width:53.3px;height:15.6px;background:#2962FF;border-radius:1px 2.5px 2.5px 1px;padding-top:1.7px">202.50</div>
<div class="lbl" style="top:504.7px;width:50.3px;height:16.1px;background:#EF5350;border-radius:1px 2.5px 2.5px 1px;padding-top:2.5px">1.72<span style="letter-spacing:0;font-size:6px"> </span>M</div>
<div class="abs" style="left:873.4px;top:539px;width:52px;height:27px;background:#D3DDFC"></div>
<div class="tl" style="left:44.4px">May</div>
<div class="tl" style="left:224.6px">Jun</div>
<div class="tl" style="left:398px">Jul</div>
<div class="tl" style="left:577.8px">Aug</div>
<div class="tl" style="left:757.7px">Sep</div>
<div class="abs" style="left:822.4px;top:538.8px;width:134.5px;height:23.4px;background:#2962FF;border-radius:0 0 2px 2px"></div>
<div class="abs" style="left:831.2px;top:548.2px;font-size:11.5px;color:#fff;letter-spacing:0.5px">Sun</div>
<div class="abs" style="left:865.7px;top:548.2px;font-size:11.5px;color:#fff;letter-spacing:0.42px">Tue 30 Sep '25</div>
<svg class="abs" style="left:984.6px;top:545.5px" width="16.6" height="15.7" viewBox="0 0 18 17"><path d="M5.6 1.9 h6.8 l3.5 6.5 l-3.5 6.5 h-6.8 l-3.5 -6.5 z" fill="none" stroke="#131722" stroke-width="1.15" stroke-linejoin="round"/><circle cx="9" cy="8.4" r="2.3" fill="none" stroke="#131722" stroke-width="1.15"/></svg>
<div class="abs" style="left:0;top:567px;width:1024px;height:1px;background:#E4E6EB"></div>

<!-- symbol icons -->
<svg class="abs" style="left:5px;top:5px" width="24" height="24" viewBox="0 0 24 24">
<circle cx="14.4" cy="8.3" r="5.8" fill="#159A8C"/>
<path d="M12.6 5.9 l2.4 0.5 l1.6 2.2 l-0.3 1.6 M15.2 5.2 l1.6 1.2" stroke="#fff" stroke-width="0.9" fill="none"/>
<circle cx="8.6" cy="14.3" r="6.7" fill="#fff"/>
<circle cx="8.6" cy="14.3" r="5.8" fill="#0B0B16"/>
<path d="M5.8 16.4 h5.6" stroke="#9A5CF0" stroke-width="0.95"/><path d="M5.8 14.4 h5.6" stroke="#6C8EEA" stroke-width="0.95"/><path d="M5.8 12.4 h5.6" stroke="#2EE0B4" stroke-width="0.95"/>
</svg>
<div class="abs" id="title" style="left:29.3px;top:8.6px;font-size:16.2px;letter-spacing:0;transform:scaleX(0.932);transform-origin:0 0">SOL / TetherUS · 1D · Binance</div>
<!-- status dot -->
<div class="abs" style="left:251px;top:8.1px;width:16.8px;height:16.8px;border-radius:50%;background:#D8EFEB"></div>
<div class="abs" style="left:255.4px;top:12.5px;width:8px;height:8px;border-radius:50%;background:#089981"></div>
<!-- OHLC -->
<div class="abs ohlc" style="left:0;top:10.6px;font-size:12px;letter-spacing:1.05px;width:700px;height:14px">
<span class="abs" style="left:283.6px">O</span><span class="abs red" style="left:294.5px">211.61</span>
<span class="abs" style="left:342.9px">H</span><span class="abs red" style="left:353.3px">212.44</span>
<span class="abs" style="left:401.6px">L</span><span class="abs red" style="left:409.8px">202.76</span>
<span class="abs" style="left:458.4px">C</span><span class="abs red" style="left:468.6px">203.78</span>
<span class="abs red" style="left:517px;letter-spacing:0.95px">−7.82</span><span class="abs red" style="left:556.3px;letter-spacing:0.68px">(−3.70%)</span></div>
<!-- sell / buy -->
<div class="abs" style="left:7.4px;top:32.3px;width:61.3px;height:32.6px;box-sizing:border-box;border:1px solid #F23645;border-radius:5px;text-align:center;color:#F23645">
<div style="font-size:11.6px;font-weight:bold;margin-top:2.8px;letter-spacing:0.85px">203.77</div><div style="font-size:10px;margin-top:3.2px;letter-spacing:0.3px">SELL</div></div>
<div class="abs" style="left:78px;top:43.1px;font-size:9.8px;letter-spacing:0.4px">0.01</div>
<div class="abs" style="left:107.6px;top:32.3px;width:62.1px;height:32.6px;box-sizing:border-box;border:1px solid #2962FF;border-radius:5px;text-align:center;color:#2962FF">
<div style="font-size:11.6px;font-weight:bold;margin-top:2.8px;letter-spacing:0.85px">203.78</div><div style="font-size:10px;margin-top:3.2px;letter-spacing:0.3px">BUY</div></div>
<!-- vol -->
<div class="abs" style="left:8.3px;top:75.4px;font-size:12.2px;letter-spacing:0.1px">Vol · SOL<span class="red" style="margin-left:8.4px;letter-spacing:0.6px">1.72<span style="font-size:6px"> </span>M</span></div>
<!-- collapse -->
<div class="abs" style="left:7.2px;top:95.2px;width:27.5px;height:19.8px;box-sizing:border-box;border:1px solid #E0E3EB;border-radius:3px;background:#fff"></div>
<svg class="abs" style="left:15px;top:100px" width="12" height="10" viewBox="0 0 12 10"><path d="M2.2 6.8 L6 3.2 L9.8 6.8" fill="none" stroke="#131722" stroke-width="1.5"/></svg>

<div class="abs" style="left:247px;top:42.5px;width:383px;height:36px;background:#fff;border-radius:6px;box-shadow:0 2px 4px rgba(0,0,0,0.18),0 0 1px rgba(0,0,0,0.12)"></div>
<svg class="abs" style="left:247px;top:42px" width="383" height="37" viewBox="247 42 383 37" fill="none" stroke="#131722" stroke-width="1.15" stroke-linecap="round" stroke-linejoin="round">
<!-- drag dots -->
<g fill="#B5B8C1" stroke="none"><circle cx="255.8" cy="55.4" r="1"/><circle cx="261.8" cy="55.4" r="1"/><circle cx="255.8" cy="60.4" r="1"/><circle cx="261.8" cy="60.4" r="1"/><circle cx="255.8" cy="65.3" r="1"/><circle cx="261.8" cy="65.3" r="1"/></g>
<!-- squares + plus -->
<rect x="281.3" y="53.7" width="5" height="5" rx="1.3"/><rect x="290.9" y="53.7" width="5" height="5" rx="1.3"/><rect x="281.3" y="62.5" width="5" height="5" rx="1.3"/>
<path d="M293.4 61.9 v6 M290.4 64.9 h6"/>
<!-- pencil -->
<path d="M319 63.4 l0.9 -4.4 l9.2 -9.2 a1.5 1.5 0 0 1 2.1 0 l1.3 1.3 a1.5 1.5 0 0 1 0 2.1 l-9.2 9.2 z M327.3 51.6 l3.4 3.4 M319.9 59 l3.4 3.4"/>
<rect x="315.1" y="67.9" width="21" height="4" rx="2" fill="#2962FF" stroke="none"/>
<!-- bucket -->
<path d="M357.5 58.2 L363.3 52.4 L369.7 58.4 L364 64 Z"/>
<path d="M361.8 55.8 V50.4 a1.65 1.65 0 0 1 3.3 0 V53.6"/>
<circle cx="361.8" cy="55.9" r="0.9" fill="#131722" stroke="none"/>
<path d="M355.9 58.4 c-1.2 1.7 -1.9 2.7 -1.9 3.6 a1.9 1.9 0 0 0 3.8 0 c0 -0.9 -0.7 -1.9 -1.9 -3.6 z" fill="#131722" stroke="none"/>
<g stroke="none" fill="#A9BBF7"><rect x="352.2" y="68.2" width="20.4" height="3.5" rx="1.2" fill="#E3E9FD"/>
<rect x="352.6" y="68.2" width="1.65" height="1.75"/><rect x="354.2" y="69.95" width="1.65" height="1.75"/><rect x="355.9" y="68.2" width="1.65" height="1.75"/><rect x="357.6" y="69.95" width="1.65" height="1.75"/><rect x="359.2" y="68.2" width="1.65" height="1.75"/><rect x="360.9" y="69.95" width="1.65" height="1.75"/><rect x="362.5" y="68.2" width="1.65" height="1.75"/><rect x="364.1" y="69.95" width="1.65" height="1.75"/><rect x="365.8" y="68.2" width="1.65" height="1.75"/><rect x="367.4" y="69.95" width="1.65" height="1.75"/><rect x="369.1" y="68.2" width="1.65" height="1.75"/><rect x="370.8" y="69.95" width="1.65" height="1.75"/></g>
<!-- T -->
<path d="M392.9 53.2 v-3 h12.6 v3 M399.2 50.2 v13.2 M396.4 63.5 h5.6" stroke-width="1.05" stroke-linecap="butt"/>
<rect x="388.4" y="67.9" width="21" height="4" rx="2" fill="#2962FF" stroke="none"/>
<!-- line -->
<path d="M427.2 60.2 h16.6" stroke-width="2" stroke-linecap="butt"/>
<!-- hexagon settings -->
<path d="M498.4 52 h9 l4.7 8.2 l-4.7 8.2 h-9 l-4.7 -8.2 z"/><circle cx="502.9" cy="60.2" r="3.4"/>
<!-- lock -->
<rect x="532.4" y="59" width="14.4" height="10.2" rx="1.8"/><path d="M536.1 59 v-3 a3.5 3.5 0 0 1 6.9 -0.8"/><rect x="538.7" y="61.9" width="1.8" height="4" rx="0.9" fill="#131722" stroke="none"/>
<!-- trash -->
<path d="M568.2 54 h15.8 M572.5 54 v-1.7 a1.2 1.2 0 0 1 1.2 -1.2 h4.8 a1.2 1.2 0 0 1 1.2 1.2 v1.7 M570 54 l1.3 13.4 a1.6 1.6 0 0 0 1.6 1.4 h6.4 a1.6 1.6 0 0 0 1.6 -1.4 l1.3 -13.4"/>
<!-- more -->
<circle cx="606.8" cy="60.8" r="2"/><circle cx="613.4" cy="60.8" r="2"/><circle cx="620" cy="60.8" r="2"/>
</svg>
<div class="abs" style="left:451.5px;top:53.7px;font-size:14px;letter-spacing:-0.2px">2px</div>

<div class="abs" style="left:800px;top:230px;width:157.5px;height:50px;overflow:hidden">
<div class="abs" style="left:16.9px;top:11.5px;width:166px;height:23.5px;background:#fff;border-radius:4px;box-shadow:0 2px 4px rgba(0,0,0,0.2),0 0 1px rgba(0,0,0,0.12)"></div>
<div class="abs" style="left:26.6px;top:17.4px;font-size:12px;letter-spacing:0.45px;color:#131722">−51.20 (−20.18%) −5,120</div>
</div>

<svg class="abs" style="left:5px;top:505px" width="165" height="32" viewBox="5 505 165 32">
<g transform="translate(11.2,508.6) scale(0.79,0.762)">
<g stroke="#fff" stroke-width="4" stroke-linejoin="round"><path d="M14 22H7V11H0V4h14v18zM28 22h-8l7.5-18h8L28 22z" fill="#fff"/><circle cx="20" cy="8" r="4" fill="#fff"/></g>
<path d="M14 22H7V11H0V4h14v18zM28 22h-8l7.5-18h8L28 22z" fill="#0B0B0F"/><circle cx="20" cy="8" r="4" fill="#0B0B0F"/></g>
<text x="45.6" y="525.8" font-family="Liberation Sans, sans-serif" font-weight="bold" font-size="21" fill="#0B0B0F" stroke="#fff" stroke-width="3.2" stroke-linejoin="round" paint-order="stroke" textLength="117.3" lengthAdjust="spacingAndGlyphs">TradingView</text>
</svg>

<div class="rg" style="left:13.6px">1D</div>
<div class="rg" style="left:42.6px">5D</div>
<div class="rg" style="left:73px">1M</div>
<div class="rg" style="left:104.4px">3M</div>
<div class="rg" style="left:135.4px">6M</div>
<div class="rg" style="left:167px">YTD</div>
<div class="rg" style="left:206.6px">1Y</div>
<div class="rg" style="left:234.2px">5Y</div>
<div class="rg" style="left:262.4px">All</div>
<div class="abs" style="left:288.1px;top:575.5px;width:1px;height:21px;background:#E6E7EA"></div>
<svg class="abs" style="left:299px;top:574px" width="24" height="24" viewBox="0 0 24 24" fill="none" stroke="#131722" stroke-width="1.2" stroke-linecap="round" stroke-linejoin="round">
<path d="M3.8 11 v-4.7 a2 2 0 0 1 2 -2 h12.4 a2 2 0 0 1 2 2 v11.1 a2 2 0 0 1 -2 2 h-6"/><path d="M3.8 8.7 h16.4 M8.5 2.6 v3.6 M15.5 2.6 v3.6"/><path d="M2.3 16.1 h7.4 M6.4 12.9 l3.3 3.2 l-3.3 3.2"/>
</svg>
<div class="abs" id="clock" style="left:928.6px;top:579.6px;font-size:14px;letter-spacing:0.1px">07:08:15 UTC</div>

</body></html>
